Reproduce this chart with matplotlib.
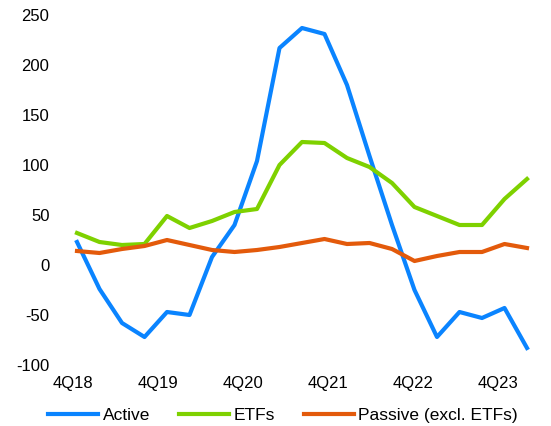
import matplotlib
matplotlib.use('Agg')
import matplotlib.pyplot as plt

plt.rcParams['font.family'] = ['Liberation Sans', 'DejaVu Sans']
plt.rcParams['axes.unicode_minus'] = False

quarters = list(range(21))  # 4Q18 .. 4Q23
active = [23, -24, -58, -72, -47, -50, 8, 40, 104, 217, 237, 231, 180, 109, 40,
          -25, -72, -47, -53, -43, -83]
etfs = [32, 23, 20, 21, 49, 37, 44, 53, 56, 100, 123, 122, 107, 98, 82,
        58, 49, 40, 40, 66, 86]
passive = [14, 12, 16, 19, 25, 20, 15, 13, 15, 18, 22, 26, 21, 22, 16,
           4, 9, 13, 13, 21, 17]
tick_labels = ['4Q18', '4Q19', '4Q20', '4Q21', '4Q22', '4Q23']

fig = plt.figure(figsize=(5.51, 4.26), dpi=100)
ax = fig.add_axes([55 / 551, 61 / 426, 485 / 551, 350 / 426])

ax.plot(quarters, active, color='#0A84FF', lw=3, label='Active')
ax.plot(quarters, etfs, color='#7ED100', lw=3, label='ETFs')
ax.plot(quarters, passive, color='#E35A0B', lw=3, label='Passive (excl. ETFs)')

ax.set_xlim(-0.978, 20.578)
ax.set_ylim(-100, 250)
ax.set_yticks(range(-100, 251, 50))
# labels in the original sit a little off the data points
ax.set_xticks([-0.18 + 3.78 * k for k in range(6)])
ax.set_xticklabels(tick_labels)
ax.tick_params(axis='both', length=0, labelsize=12, colors='black')
ax.tick_params(axis='y', pad=4)
ax.tick_params(axis='x', pad=8)
for s in ax.spines.values():
    s.set_visible(False)

fig.legend(loc='center', bbox_to_anchor=(283 / 551, 11 / 426), ncol=3,
           frameon=False, fontsize=12.5, handlelength=2.9, handletextpad=0.25,
           columnspacing=1.65, borderaxespad=0)

fig.savefig('out.png', dpi=100)
